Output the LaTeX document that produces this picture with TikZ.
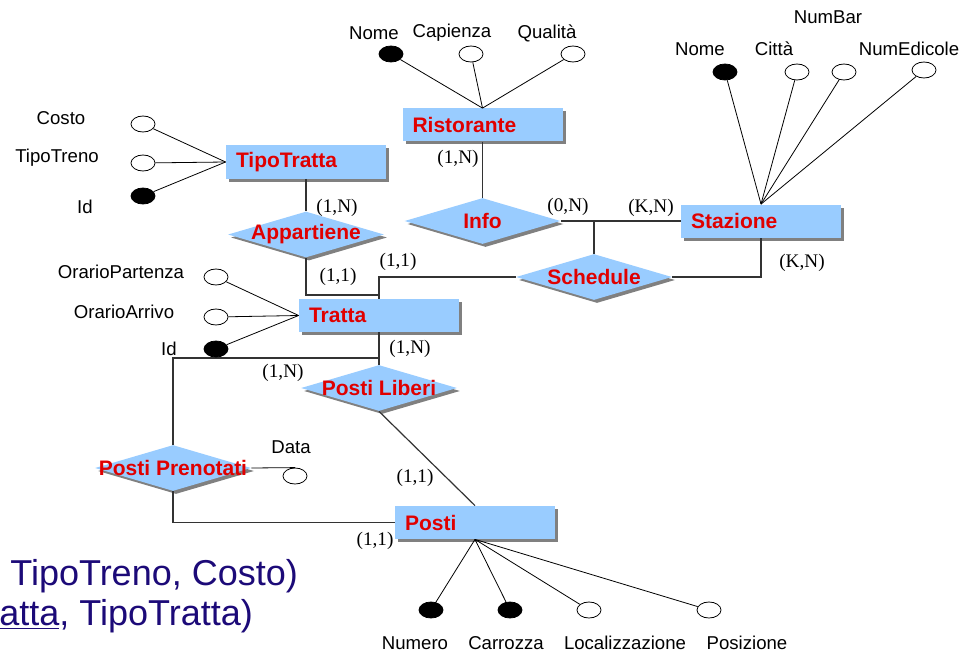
\documentclass[tikz,border=0pt]{standalone}
\usepackage{fontspec}
\setmainfont{Liberation Serif}
\newfontfamily\ersans{Liberation Sans}
\usetikzlibrary{shapes.geometric,shadows}
\definecolor{erblue}{HTML}{99CCFF}
\definecolor{erred}{HTML}{E00000}
\definecolor{ershadow}{HTML}{808080}
\definecolor{ernavy}{HTML}{1C0A78}
\tikzset{
  entity/.style={rectangle, fill=erblue, text width=70pt, align=left,
    inner xsep=5pt, inner ysep=0pt, minimum height=16.5pt, text=erred,
    font=\ersans\bfseries\fontsize{10.5}{12}\selectfont,
    general shadow={fill=ershadow, shadow xshift=1.5pt, shadow yshift=-1.5pt}},
  relation/.style={diamond, fill=erblue, inner sep=0pt,
    minimum width=78pt, minimum height=23pt,
    general shadow={fill=ershadow, shadow xshift=1.5pt, shadow yshift=-1.5pt}},
  reltext/.style={text=erred, inner sep=0pt,
    font=\ersans\bfseries\fontsize{10.5}{12}\selectfont},
  attr/.style={ellipse, draw, line width=0.4pt, fill=white,
    minimum width=12pt, minimum height=8pt, inner sep=0pt},
  keyattr/.style={attr, fill=black},
  attrname/.style={inner sep=0pt, font=\ersans\fontsize{9.3}{11}\selectfont},
  card/.style={inner sep=0pt, font=\fontsize{9.6}{11}\selectfont},
  link/.style={line width=0.6pt, black!80},
  attrlink/.style={line width=0.4pt},
  schema/.style={anchor=base west, inner sep=0pt, text=ernavy,
    font=\ersans\fontsize{18}{20}\selectfont},
}

\begin{document}
\begin{tikzpicture}[x=0.5pt, y=-0.5pt]
\useasboundingbox (0,0) rectangle (969,658);

% entities
\node[entity] (tt) at (306,162) {TipoTratta};
\node[entity] (rist) at (482.5,125) {Ristorante};
\node[entity] (staz) at (761,221) {Stazione};
\node[entity] (tratta) at (379,315.5) {Tratta};
\node[entity] (posti) at (475,522.5) {Posti};

% relationships, name set as a centred label so the diamond keeps its size
\node[relation, label={[reltext, name=appt]center:Appartiene}] (app) at (306,234.5) {};
\node[relation, label={[reltext, name=infot]center:Info}] (info) at (482.5,221) {};
\node[relation, label={[reltext, name=schedt]center:Schedule}] (sched) at (594,277) {};
\node[relation, label={[reltext, name=plt]center:Posti Liberi}] (pl) at (379,388) {};
\node[relation, label={[reltext, name=ppt]center:Posti Prenotati}] (pp) at (173,468) {};

% joints where a branch leaves a straight line
\coordinate (appj) at (379,295);
\coordinate (plj) at (379,358);

\draw[link] (tt.south) -- (app.north);
\draw[link] (app.south) |- (appj) -- (tratta.north);
\draw[link] (tratta.north) |- (sched.west);
\draw[link] (rist.south) -- (info.north);
\draw[link] (info.east) -- (staz.west);
\draw[link] (sched.north) -- (sched.north |- staz.west);
\draw[link] (sched.east) -| (staz.south);
\draw[link] (tratta.south) -- (pl.north);
\draw[link] (plj) -| (pp.north);
\draw[link] (pl.south) -- (posti.north);
\draw[link] (pp.south) |- (posti.west);

% attributes of TipoTratta
\node[attr] (costo) at (143,124) {};
\node[attr] (tipotreno) at (143,163) {};
\node[keyattr] (ttid) at (143,196) {};
\node[attrname] (lcosto) at (61,118) {Costo};
\node[attrname] (ltipotreno) at (57,158) {TipoTreno};
\node[attrname] (lttid) at (85,207) {Id};
\foreach \a in {costo,tipotreno,ttid}
  \draw[attrlink] (\a) -- (tt.west);

% attributes of Ristorante
\node[keyattr] (rnome) at (391,54) {};
\node[attr] (capienza) at (471,54) {};
\node[attr] (qualita) at (573,54) {};
\node[attrname] (lrnome) at (374,33) {Nome};
\node[attrname] (lcapienza) at (452,33) {Capienza};
\node[attrname] (lqualita) at (547,33) {Qualità};
\foreach \a in {rnome,capienza,qualita}
  \draw[attrlink] (\a) -- (rist.north);

% attributes of Stazione
\node[keyattr] (snome) at (725,72) {};
\node[attr] (citta) at (797,72) {};
\node[attr] (numbar) at (844,72) {};
\node[attr] (numedicole) at (924,70) {};
\node[attrname] (lsnome) at (700,49) {Nome};
\node[attrname] (lcitta) at (774,49) {Città};
\node[attrname] (lnumbar) at (828,17) {NumBar};
\node[attrname] (lnumedicole) at (909,49) {NumEdicole};
\foreach \a in {snome,citta,numbar,numedicole}
  \draw[attrlink] (\a) -- (staz.north);

% attributes of Tratta
\node[attr] (partenza) at (216,277) {};
\node[attr] (arrivo) at (216,317) {};
\node[keyattr] (trid) at (216,349) {};
\node[attrname] (lpartenza) at (121,272) {OrarioPartenza};
\node[attrname] (larrivo) at (124,312) {OrarioArrivo};
\node[attrname] (ltrid) at (169,349) {Id};
\foreach \a in {partenza,arrivo,trid}
  \draw[attrlink] (\a) -- (tratta.west);

% attributes of Posti
\node[keyattr] (numero) at (431,610) {};
\node[keyattr] (carrozza) at (510,610) {};
\node[attr] (localizz) at (589,610) {};
\node[attr] (posizione) at (709,610) {};
\node[attrname] (lnumero) at (415,643) {Numero};
\node[attrname] (lcarrozza) at (506,643) {Carrozza};
\node[attrname] (llocalizz) at (625,643) {Localizzazione};
\node[attrname] (lposizione) at (747,643) {Posizione};
\foreach \a in {numero,carrozza,localizz,posizione}
  \draw[attrlink] (\a) -- (posti.south);

% attribute of Posti Prenotati
\node[attr] (data) at (295,476) {};
\node[attrname] (ldata) at (291,447) {Data};
\draw[attrlink] (pp.east) -- (data.north);

% cardinalities
\node[card] (c1) at (337,208) {(1,N)};
\node[card] (c2) at (338,277) {(1,1)};
\node[card] (c3) at (398,262) {(1,1)};
\node[card] (c4) at (458,159) {(1,N)};
\node[card] (c5) at (568,207) {(0,N)};
\node[card] (c6) at (651,208) {(K,N)};
\node[card] (c7) at (802,263) {(K,N)};
\node[card] (c8) at (410,349) {(1,N)};
\node[card] (c9) at (283,373) {(1,N)};
\node[card] (c10) at (415,478) {(1,1)};
\node[card] (c11) at (375,541) {(1,1)};

% schema lines underneath
\node[schema] (schema1) at (10,585) {TipoTreno, Costo)};
\node[schema] (schema2) at (-1,625) {\underline{atta}, TipoTratta)};
\end{tikzpicture}
\end{document}
